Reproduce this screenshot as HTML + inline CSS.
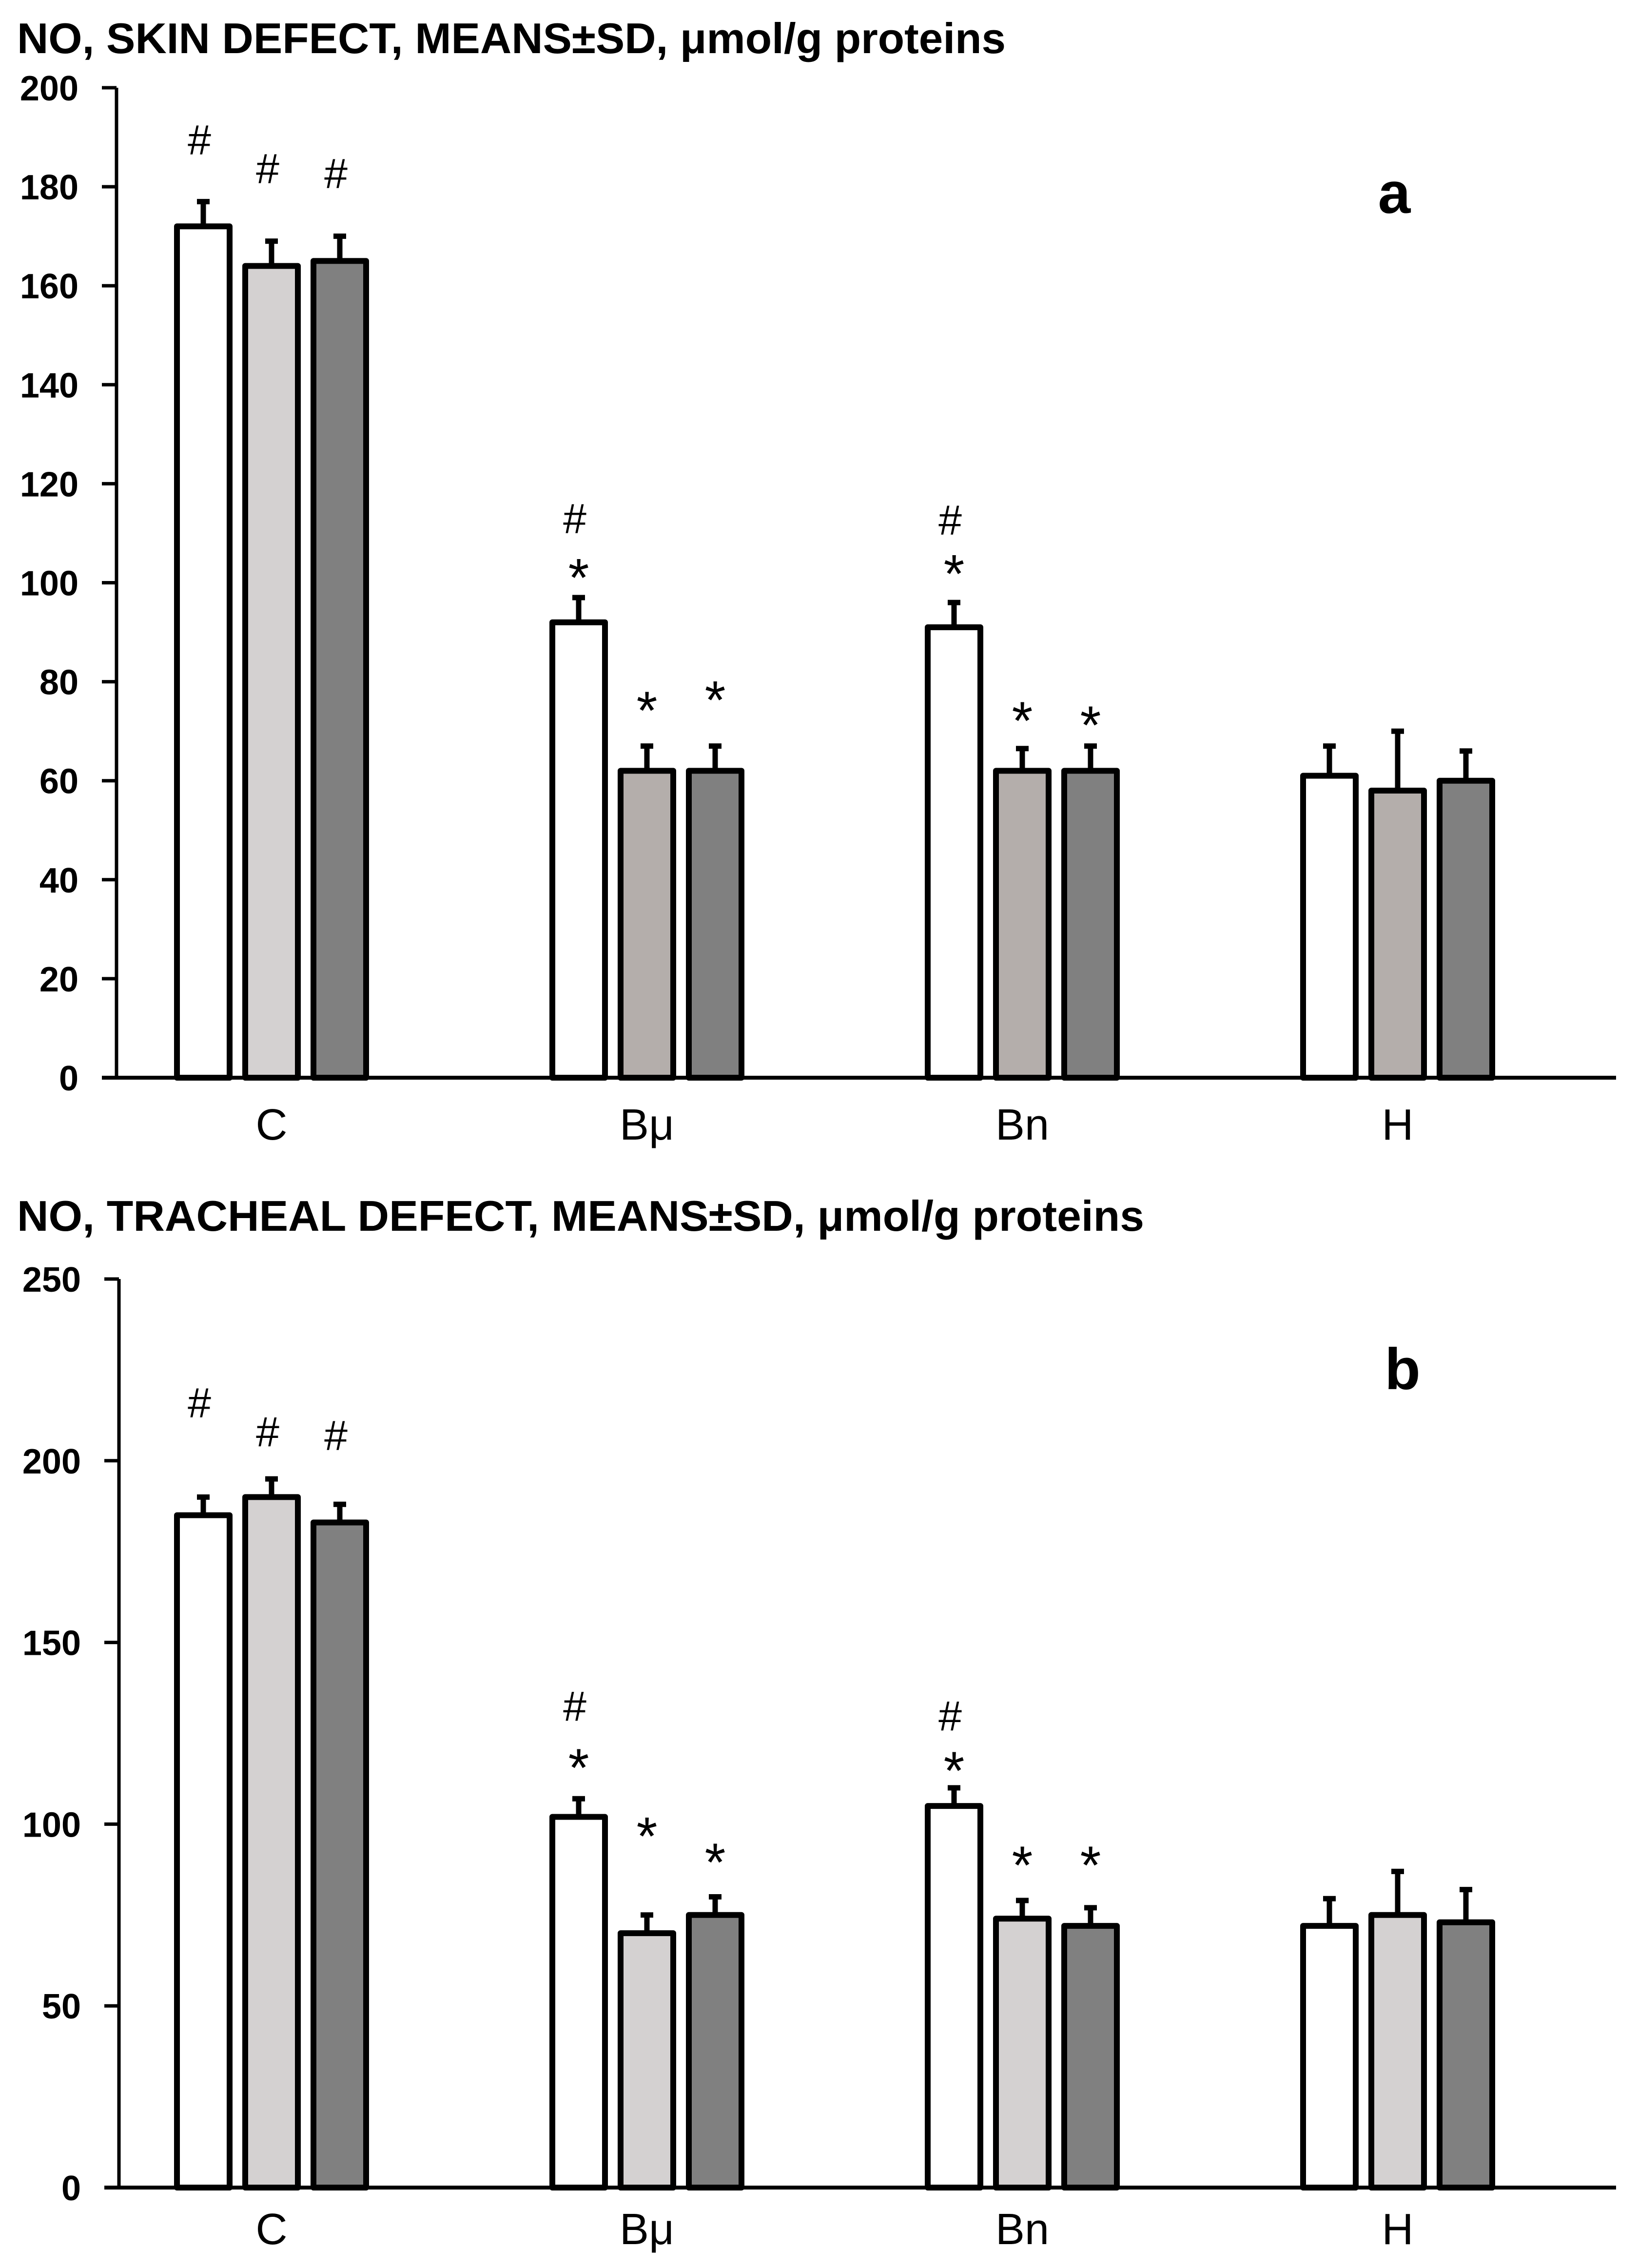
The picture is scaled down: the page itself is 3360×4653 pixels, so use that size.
<!DOCTYPE html>
<html><head><meta charset="utf-8"><style>
html,body{margin:0;padding:0;background:#fff;}
svg{display:block;}
text{font-family:"Liberation Sans",sans-serif;fill:#000;}
</style></head><body>
<svg id="chart" width="3360" height="4653" viewBox="0 0 3360 4653" xmlns="http://www.w3.org/2000/svg">
<rect x="0" y="0" width="3360" height="4653" fill="#fff"/>
<text x="35" y="109" font-size="88" font-weight="bold" textLength="2028" lengthAdjust="spacingAndGlyphs">NO, SKIN DEFECT, MEANS±SD, μmol/g proteins</text>
<text x="35" y="2525" font-size="88" font-weight="bold" textLength="2312" lengthAdjust="spacingAndGlyphs">NO, TRACHEAL DEFECT, MEANS±SD, μmol/g proteins</text>
<text x="2860" y="437" font-size="120" font-weight="bold" text-anchor="middle">a</text>
<text x="2877" y="2850" font-size="120" font-weight="bold" text-anchor="middle">b</text>
<g id="ga"></g>
<g id="gb"></g>
</svg>
<script>
const categories = ["C", "Bμ", "Bn", "H"];
// Chart a (skin)
const aTicks = [0, 20, 40, 60, 80, 100, 120, 140, 160, 180, 200];
const aS1 = [172, 92, 91, 61];
const aS2 = [164, 62, 62, 58];
const aS3 = [165, 62, 62, 60];
const aE1 = [5, 5, 5, 6];
const aE2 = [5, 5, 4.5, 12];
const aE3 = [5, 5, 5, 6];
const aHash = [[189.5, 183.7, 182.7], [113, null, null], [112.7, null, null], [null, null, null]];
const aStar = [[null, null, null], [102.4, 75.6, 77.7], [103.2, 73.5, 72.6], [null, null, null]];
const aMid = ["#d4d1d1", "#b4aeab", "#b4aeab", "#b4aeab"];
// Chart b (tracheal)
const bTicks = [0, 50, 100, 150, 200, 250];
const bS1 = [185, 102, 105, 72];
const bS2 = [190, 70, 74, 75];
const bS3 = [183, 75, 72, 73];
const bE1 = [5, 5, 5, 7.5];
const bE2 = [5, 5, 5, 12];
const bE3 = [5, 5, 5, 9];
const bHash = [[216, 208, 207], [132.5, null, null], [129.8, null, null], [null, null, null]];
const bStar = [[null, null, null], [117.4, 98.6, 91.4], [116.6, 90.6, 90.6], [null, null, null]];
const bMid = ["#d4d1d1", "#d4d1d1", "#d4d1d1", "#d4d1d1"];

const NS = "http://www.w3.org/2000/svg";
function mk(tag, attrs, parent) {
  const e = document.createElementNS(NS, tag);
  for (const k in attrs) e.setAttribute(k, attrs[k]);
  parent.appendChild(e);
  return e;
}
function draw(g, cfg) {
  const y = v => cfg.y0 - (v - 0) * (cfg.y0 - cfg.yTop) / cfg.max;
  const xc = i => 557 + i * 770;
  const ax = mk("line", {x1: cfg.axX, y1: y(cfg.max), x2: cfg.axX, y2: cfg.y0, stroke: "#000", "stroke-width": 7}, g);
  
  
  cfg.ticks.forEach(t => {
    const tk = mk("line", {x1: cfg.axX - 30, y1: y(t), x2: cfg.axX, y2: y(t), stroke: "#000", "stroke-width": 7}, g);
    
    
    const tl = mk("text", {x: cfg.axX - 78, y: y(t) + 26, "font-size": 72, "font-weight": "bold", "text-anchor": "end"}, g);
    tl.textContent = t;
    
    
  });
  const series = [cfg.s1, cfg.s2, cfg.s3];
  const errs = [cfg.e1, cfg.e2, cfg.e3];
  categories.forEach((c, i) => {
    const fills = ["#ffffff", cfg.mid[i], "#808080"];
    for (let j = 0; j < 3; j++) {
      const cx = xc(i) + (j - 1) * 140;
      const v = series[j][i], e = errs[j][i];
      const el = mk("line", {x1: cx, y1: y(v), x2: cx, y2: y(v + e), stroke: "#000", "stroke-width": 11}, g);
      
      
      const cap = mk("line", {x1: cx - 13, y1: y(v + e), x2: cx + 13, y2: y(v + e), stroke: "#000", "stroke-width": 11}, g);
      
      
      const r = mk("rect", {x: cx - 54, y: y(v), width: 108, height: cfg.y0 - y(v), fill: fills[j], stroke: "#000", "stroke-width": 12, "stroke-linejoin": "round"}, g);
      
      
      const h = cfg.hash[i][j], s = cfg.star[i][j];
      if (h !== null) {
        const t = mk("text", {x: cx - 8, y: y(h) + 30, "font-size": 86, "text-anchor": "middle"}, g);
        t.textContent = "#";
        
        
      }
      if (s !== null) {
        const t = mk("text", {x: cx, y: y(s) + 52, "font-size": 110, "text-anchor": "middle"}, g);
        t.textContent = "*";
        
        
      }
    }
    const cl = mk("text", {x: xc(i), y: cfg.labY, "font-size": 90, "font-weight": cfg.labW, "text-anchor": "middle"}, g);
    cl.textContent = c;
    
    
  });
  const xa = mk("line", {x1: cfg.axX - 30, y1: cfg.y0, x2: 3315, y2: cfg.y0, stroke: "#000", "stroke-width": 8}, g);
  
  
}
draw(document.getElementById("ga"), {y0: 2211, yTop: 180, max: 200, axX: 239, ticks: aTicks, s1: aS1, s2: aS2, s3: aS3, e1: aE1, e2: aE2, e3: aE3, hash: aHash, star: aStar, mid: aMid, labY: 2338, labW: "normal"});
draw(document.getElementById("gb"), {y0: 4488, yTop: 2624, max: 250, axX: 244, ticks: bTicks, s1: bS1, s2: bS2, s3: bS3, e1: bE1, e2: bE2, e3: bE3, hash: bHash, star: bStar, mid: bMid, labY: 4604, labW: "normal"});
</script>
</body></html>
